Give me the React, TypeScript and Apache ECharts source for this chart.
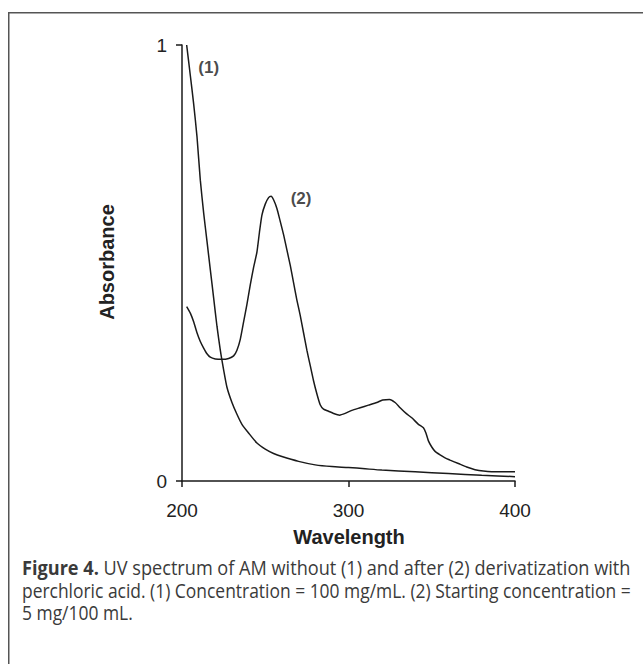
import React, { useEffect, useRef } from "react";
import * as echarts from "echarts";

// ---- data ----
const xTicks = [200, 300, 400];
const yTicks = [0, 1];

// (1) AM without derivatization
const curve1Wavelength = [202.8, 205, 207, 209, 211, 213, 215, 217, 219, 221, 223, 225, 227, 230, 233, 236, 240, 245, 250, 255, 260, 270, 280, 290, 300, 310, 320, 340, 360, 380, 400];
const curve1Absorbance = [1.0, 0.93, 0.865, 0.79, 0.69, 0.615, 0.55, 0.485, 0.42, 0.355, 0.3, 0.255, 0.215, 0.18, 0.153, 0.13, 0.11, 0.087, 0.073, 0.063, 0.056, 0.045, 0.037, 0.033, 0.031, 0.028, 0.025, 0.021, 0.017, 0.013, 0.01];

// (2) after derivatization with perchloric acid
const curve2Wavelength = [202.8, 205, 207, 209, 211, 213, 215, 217, 220, 224, 228, 231, 233, 235, 237, 239, 241, 243, 245, 246.5, 248, 250, 252, 253.5, 255, 257, 258.7, 261, 263, 265, 267, 269, 271, 273, 275, 277, 279, 281, 283, 285, 288, 291, 294.6, 298, 302, 307, 312, 317, 320.5, 324.6, 328, 331, 334.6, 338, 342, 345, 346.5, 348, 350, 352, 355, 358, 361, 366, 371, 376, 381, 390, 400];
const curve2Absorbance = [0.4, 0.385, 0.365, 0.34, 0.32, 0.305, 0.292, 0.284, 0.28, 0.279, 0.281, 0.287, 0.3, 0.325, 0.365, 0.405, 0.45, 0.49, 0.525, 0.57, 0.61, 0.635, 0.65, 0.653, 0.645, 0.625, 0.6, 0.565, 0.53, 0.495, 0.455, 0.415, 0.38, 0.34, 0.3, 0.265, 0.23, 0.2, 0.175, 0.165, 0.16, 0.155, 0.151, 0.155, 0.162, 0.168, 0.174, 0.18, 0.186, 0.187, 0.18, 0.168, 0.155, 0.145, 0.13, 0.122, 0.11, 0.092, 0.078, 0.068, 0.06, 0.053, 0.048, 0.04, 0.032, 0.026, 0.023, 0.021, 0.021];

const seriesNames = ["(1)", "(2)"];
const labelAnchorX = [202.8, 253.5];
const labelAnchorY = [1.0, 0.653];

const xTitle = "Wavelength";
const yTitle = "Absorbance";
const captionBold = "Figure 4.";
const captionLine1 = " UV spectrum of AM without (1) and after (2) derivatization with";
const captionLine2 = "perchloric acid. (1) Concentration = 100 mg/mL. (2) Starting concentration =";
const captionLine3 = "5 mg/100 mL.";

const CAP_FONT = "'Open Sans', 'Noto Sans', sans-serif";
const CAP_SIZE = 20;
const AX_FONT = "'Liberation Sans', Arial, sans-serif";

function measure(text: string, font: string): number {
  const c = document.createElement("canvas").getContext("2d");
  if (!c) return text.length * 9;
  c.font = font;
  return c.measureText(text).width;
}

const zip = (xs: number[], ys: number[]) => xs.map((x, i) => [x, ys[i]]);

export default function App() {
  const ref = useRef<HTMLDivElement>(null);
  useEffect(() => {
    if (!ref.current) return;
    const chart = echarts.init(ref.current, undefined, { renderer: "svg" });

    const capW = 609;
    const w1 =
      measure(captionBold, `bold ${CAP_SIZE}px ${CAP_FONT}`) +
      measure(captionLine1, `${CAP_SIZE}px ${CAP_FONT}`);
    const w2 = measure(captionLine2, `${CAP_SIZE}px ${CAP_FONT}`);
    const s1 = capW / w1;
    const s2 = capW / w2;
    const capX = 22;
    const capColor = "#3a3a3a";

    const axisCommon = {
      axisLine: { show: true, onZero: false, lineStyle: { color: "#1a1a1a", width: 1.5 } },
      axisTick: { show: true, inside: false, length: 6, lineStyle: { color: "#1a1a1a", width: 1.5 } },
      splitLine: { show: false },
    };

    chart.setOption({
      animation: false,
      backgroundColor: "#ffffff",
      grid: { left: 182, top: 45, width: 333, height: 436, containLabel: false },
      xAxis: {
        type: "value",
        min: xTicks[0],
        max: xTicks[xTicks.length - 1],
        interval: xTicks[1] - xTicks[0],
        ...axisCommon,
        axisLabel: { fontSize: 19, color: "#222", fontFamily: AX_FONT, margin: 20 },
      },
      yAxis: {
        type: "value",
        min: yTicks[0],
        max: yTicks[yTicks.length - 1],
        interval: yTicks[1] - yTicks[0],
        ...axisCommon,
        axisLabel: { fontSize: 19, color: "#222", fontFamily: AX_FONT, margin: 15 },
      },
      series: [
        {
          name: seriesNames[0],
          type: "line",
          data: zip(curve1Wavelength, curve1Absorbance),
          showSymbol: false,
          smooth: 0.2,
          lineStyle: { color: "#1a1a1a", width: 1.5 },
        },
        {
          name: seriesNames[1],
          type: "line",
          data: zip(curve2Wavelength, curve2Absorbance),
          showSymbol: false,
          smooth: 0.2,
          lineStyle: { color: "#1a1a1a", width: 1.5 },
        },
        {
          type: "scatter",
          symbolSize: 1,
          itemStyle: { color: "rgba(0,0,0,0)" },
          silent: true,
          data: [
            {
              value: [labelAnchorX[0], labelAnchorY[0]],
              label: { show: true, formatter: seriesNames[0], position: "inside", offset: [22, 22] },
            },
            {
              value: [labelAnchorX[1], labelAnchorY[1]],
              label: { show: true, formatter: seriesNames[1], position: "inside", offset: [30, 2] },
            },
          ],
          label: { fontSize: 17, fontWeight: "bold", color: "#1a1a1a", fontFamily: AX_FONT },
        },
      ],
      graphic: [
        { type: "line", shape: { x1: 8.75, y1: 12, x2: 8.75, y2: 664 }, style: { stroke: "#555", lineWidth: 1.5 } },
        { type: "line", shape: { x1: 8, y1: 12.75, x2: 643, y2: 12.75 }, style: { stroke: "#555", lineWidth: 1.5 } },
        {
          type: "text",
          x: 349,
          y: 537,
          style: { text: xTitle, fontSize: 20, fontWeight: "bold", fontFamily: AX_FONT, fill: "#222", align: "center", verticalAlign: "middle" },
        },
        {
          type: "text",
          x: 107,
          y: 262,
          rotation: Math.PI / 2,
          style: { text: yTitle, fontSize: 20, fontWeight: "bold", fontFamily: AX_FONT, fill: "#222", align: "center", verticalAlign: "middle" },
        },
        {
          type: "text",
          x: capX,
          y: 568,
          scaleX: s1,
          style: {
            text: `{b|${captionBold}}{r|${captionLine1}}`,
            verticalAlign: "middle",
            rich: {
              b: { fontSize: CAP_SIZE, fontWeight: "bold", fontFamily: CAP_FONT, fill: capColor },
              r: { fontSize: CAP_SIZE, fontFamily: CAP_FONT, fill: capColor },
            },
          },
        },
        {
          type: "text",
          x: capX,
          y: 590,
          scaleX: s2,
          style: { text: captionLine2, fontSize: CAP_SIZE, fontFamily: CAP_FONT, fill: capColor, verticalAlign: "middle" },
        },
        {
          type: "text",
          x: capX,
          y: 612,
          scaleX: s2,
          style: { text: captionLine3, fontSize: CAP_SIZE, fontFamily: CAP_FONT, fill: capColor, verticalAlign: "middle" },
        },
      ],
    });
    return () => chart.dispose();
  }, []);
  return (
    <div
      ref={ref}
      style={{ position: "absolute", left: 0, top: 0, width: 643, height: 664, background: "#fff" }}
    />
  );
}
